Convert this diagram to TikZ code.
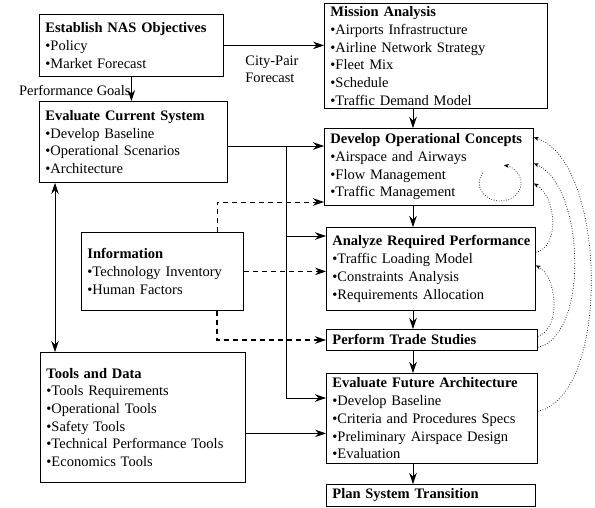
\documentclass[tikz,border=0pt]{standalone}
\usepackage{fontspec}
\setmainfont{Liberation Serif}
\usetikzlibrary{arrows.meta,calc}
\newcommand{\boxhead}[1]{\mbox{\bfseries #1}}
\tikzset{
  blk/.style={draw,line width=0.8pt,anchor=north west,align=left,inner xsep=6pt,inner ysep=1pt,
    font=\fontsize{14.5pt}{17.7pt}\selectfont},
  lbl/.style={inner sep=0pt,align=left,font=\fontsize{14.5pt}{17.7pt}\selectfont},
  dsh/.style={dash pattern=on 5pt off 4pt,line width=0.8pt},
  fback/.style={line width=0.7pt,dash pattern=on 0.7pt off 1.8pt,-{Stealth[length=5pt,width=4pt]}}
}
\begin{document}
\begin{tikzpicture}[x=1pt,y=-1pt,>={Stealth[length=11pt,width=7.5pt]},line width=0.8pt]
  \useasboundingbox (0,0) rectangle (595,507);
  % left column
  \node[blk,text width=172pt,minimum height=62pt] (nas) at (39,14)
    {\boxhead{Establish NAS Objectives}\\•Policy\\•Market Forecast};
  \node[blk,text width=176pt,minimum height=81pt] (ecs) at (39,101)
    {\boxhead{Evaluate Current System}\\•Develop Baseline\\•Operational Scenarios\\•Architecture};
  \node[blk,text width=150pt,minimum height=78pt] (info) at (81,232)
    {\boxhead{Information}\\•Technology Inventory\\•Human Factors};
  \node[blk,text width=193pt,minimum height=130pt] (tools) at (40,352)
    {\boxhead{Tools and Data}\\•Tools Requirements\\•Operational Tools\\•Safety Tools\\•Technical Performance Tools\\•Economics Tools};
  % right column
  \node[blk,text width=211pt,minimum height=105pt] (mis) at (324,3)
    {\boxhead{Mission Analysis}\\•Airports Infrastructure\\•Airline Network Strategy\\•Fleet Mix\\•Schedule\\•Traffic Demand Model};
  \node[blk,text width=197pt,minimum height=77pt] (doc) at (324,128)
    {\boxhead{Develop Operational Concepts}\\•Airspace and Airways\\•Flow Management\\•Traffic Management};
  \node[blk,text width=197pt,minimum height=83pt] (arp) at (326,227)
    {\boxhead{Analyze Required Performance}\\•Traffic Loading Model\\•Constraints Analysis\\•Requirements Allocation};
  \node[blk,text width=199pt,minimum height=21pt] (pts) at (326,329) {\boxhead{Perform Trade Studies}};
  \node[blk,text width=199pt,minimum height=90pt] (efa) at (326,373)
    {\boxhead{Evaluate Future Architecture}\\•Develop Baseline\\•Criteria and Procedures Specs\\•Preliminary Airspace Design\\•Evaluation};
  \node[blk,text width=197pt,minimum height=22pt] (pst) at (326,484) {\boxhead{Plan System Transition}};
  % labels
  \node[lbl,anchor=east] (pg) at (131,90) {Performance Goals};
  \node[lbl,anchor=north west] (cpf) at (245,55) {City-Pair\\Forecast};
  % solid connectors
  \draw[->] (nas.east) -- (nas.east -| mis.west);
  \draw[->] (nas.south) -- (nas.south |- ecs.north);
  \draw[<->] ($(ecs.south west)+(16,0)$) -- ($(tools.north west)+(15,0)$);
  \coordinate (bt) at (286,146); \coordinate (bm) at (286,236); \coordinate (bb) at (286,398);
  \draw[->] (ecs.east |- bt) -- (bt -| doc.west);
  \draw (bt) -- (bb);
  \draw[->] (bm) -- (bm -| arp.west);
  \draw[->] (bb) -- (bb -| efa.west);
  \draw[->] ($(tools.east)+(0,16)$) coordinate (tq) -- (tq -| efa.west);
  \coordinate (col) at (413,0);
  \foreach \a/\b in {mis/doc,doc/arp,arp/pts,pts/efa,efa/pst}
    \draw[->] (col |- \a.south) -- (col |- \b.north);
  % dashed connectors
  \coordinate (dA) at (217,202); \coordinate (dB) at (217,340);
  \draw[dsh,->] (dA |- info.north) -- (dA) -- (dA -| doc.west);
  \draw[dsh,->] (info.east) -- (info.east -| arp.west);
  \draw[dsh,line width=1.2pt,->] (dB |- info.south) -- (dB) -- (dB -| pts.west);
  % feedback
  \draw[fback] ($(doc.east)+(-51,6)$) arc[start angle=214,end angle=-80,x radius=21,y radius=18];
  \draw[fback] ([yshift=16.5pt]arp.east) .. controls +(25,-6) and +(22,13) .. ([yshift=-16.5pt]doc.east);
  \draw[fback] ([yshift=3.5pt]pts.east) .. controls +(24,-8) and +(21,11) .. ([yshift=3.5pt]arp.east);
  \draw[fback] ([yshift=-7.5pt]pts.east) .. controls +(52,-12) and +(51,22) .. ([yshift=3.5pt]doc.east);
  \draw[fback] ([yshift=7pt]efa.east) .. controls +(74,-16) and +(73,23) .. ([yshift=29.5pt]doc.east);
\end{tikzpicture}
\end{document}
